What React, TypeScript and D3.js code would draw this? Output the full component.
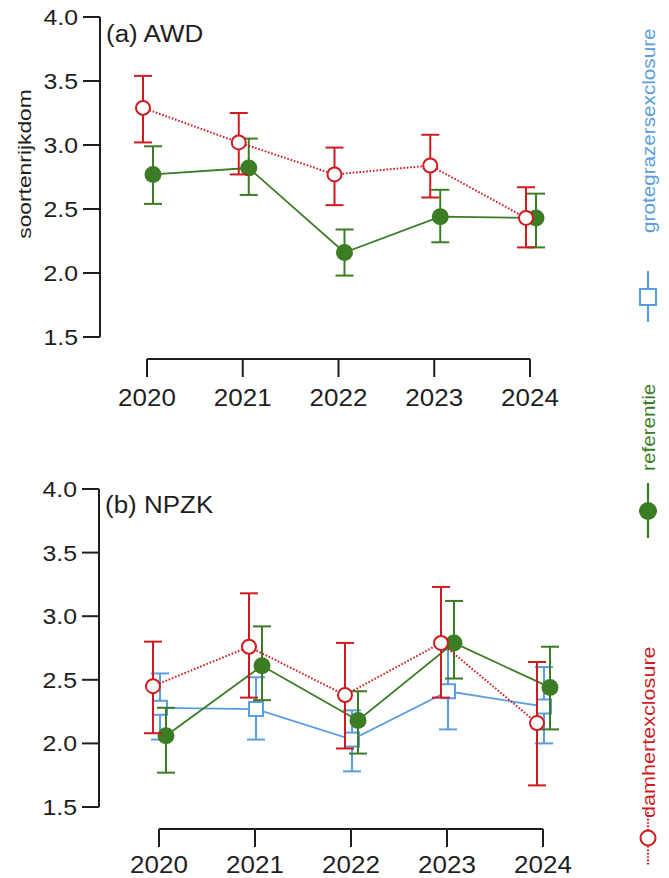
import React from 'react'
import * as d3 from 'd3'

const years = ['2020', '2021', '2022', '2023', '2024']
const yTicks = [1.5, 2.0, 2.5, 3.0, 3.5, 4.0]

// (a) AWD
const awdDamhertMean = [3.29, 3.02, 2.77, 2.84, 2.43]
const awdDamhertLo = [3.02, 2.77, 2.53, 2.59, 2.2]
const awdDamhertHi = [3.54, 3.25, 2.98, 3.08, 2.67]
const awdRefMean = [2.77, 2.82, 2.16, 2.44, 2.43]
const awdRefLo = [2.54, 2.61, 1.98, 2.24, 2.2]
const awdRefHi = [2.99, 3.05, 2.34, 2.65, 2.62]

// (b) NPZK
const npzkDamhertMean = [2.45, 2.76, 2.38, 2.79, 2.16]
const npzkDamhertLo = [2.08, 2.36, 1.96, 2.36, 1.67]
const npzkDamhertHi = [2.8, 3.18, 2.79, 3.23, 2.64]
const npzkRefMean = [2.06, 2.61, 2.18, 2.79, 2.44]
const npzkRefLo = [1.77, 2.34, 1.92, 2.51, 2.11]
const npzkRefHi = [2.28, 2.92, 2.41, 3.12, 2.76]
const npzkGroteMean = [2.28, 2.27, 2.03, 2.41, 2.29]
const npzkGroteLo = [2.03, 2.03, 1.78, 2.11, 2.0]
const npzkGroteHi = [2.55, 2.52, 2.26, 2.74, 2.6]

const RED = '#cf1b1f'
const GREEN = '#3b7c24'
const BLUE = '#5a9de0'
const INK = '#1e1e1e'
const FONT = '"Liberation Sans", Arial, Helvetica, sans-serif'
const SX = 1.13

type Kind = 'damhert' | 'ref' | 'grote'
type Series = { kind: Kind; mean: number[]; lo: number[]; hi: number[]; dx: number }

function Txt({ x, y, size, anchor = 'start', rot = 0, sx = SX, fill = INK, dy = 0, children }: any) {
  return (
    <text
      transform={`translate(${x},${y}) rotate(${rot}) scale(${sx},1)`}
      fontSize={size}
      fontFamily={FONT}
      textAnchor={anchor}
      fill={fill}
      dy={dy}
    >
      {children}
    </text>
  )
}

function Marker({ kind, x, y, big = false }: { kind: Kind; x: number; y: number; big?: boolean }) {
  if (kind === 'ref') return <circle cx={x} cy={y} r={big ? 9 : 8.5} fill={GREEN} />
  if (kind === 'damhert')
    return <circle cx={x} cy={y} r={big ? 7.5 : 7} fill="#fff" stroke={RED} strokeWidth={2} />
  const h = big ? 8 : 7
  return <rect x={x - h} y={y - h} width={h * 2} height={h * 2} fill="#fff" stroke={BLUE} strokeWidth={2} />
}

const colorOf = (k: Kind) => (k === 'ref' ? GREEN : k === 'damhert' ? RED : BLUE)

function Panel({
  top,
  bottom,
  axisX,
  xLeft,
  xRight,
  axisY,
  labelGap,
  title,
  titleY,
  series,
}: {
  top: number
  bottom: number
  axisX: number
  xLeft: number
  xRight: number
  axisY: number
  labelGap: number
  title: string
  titleY: number
  series: Series[]
}) {
  const y = d3.scaleLinear().domain([1.5, 4]).range([bottom, top])
  const x = d3.scalePoint<string>().domain(years).range([xLeft, xRight])
  return (
    <g>
      {/* y axis */}
      <line x1={axisX} x2={axisX} y1={y(1.5)} y2={y(4)} stroke={INK} strokeWidth={2} />
      {yTicks.map((t) => (
        <g key={t}>
          <line x1={axisX - 17} x2={axisX} y1={y(t)} y2={y(t)} stroke={INK} strokeWidth={2} />
          <Txt x={axisX - 22} y={y(t)} size={22} anchor="end" dy="0.36em">
            {d3.format('.1f')(t)}
          </Txt>
        </g>
      ))}
      {/* x axis */}
      <line x1={x(years[0])} x2={x(years[years.length - 1])} y1={axisY} y2={axisY} stroke={INK} strokeWidth={2} />
      {years.map((yr) => (
        <g key={yr}>
          <line x1={x(yr)} x2={x(yr)} y1={axisY} y2={axisY + 18} stroke={INK} strokeWidth={2} />
          <Txt x={x(yr)} y={axisY + labelGap} size={23} anchor="middle">
            {yr}
          </Txt>
        </g>
      ))}
      <Txt x={axisX + 6} y={titleY} size={23}>
        {title}
      </Txt>
      {series.map((s) => {
        const c = colorOf(s.kind)
        const px = (i: number) => (x(years[i]) as number) + s.dx
        const line = d3
          .line<number>()
          .x((_, i) => px(i))
          .y((v) => y(v))
        return (
          <g key={s.kind}>
            <path
              d={line(s.mean) || ''}
              fill="none"
              stroke={c}
              strokeWidth={s.kind === 'damhert' ? 2 : 1.8}
              strokeDasharray={s.kind === 'damhert' ? '1.6 1.8' : undefined}
            />
            {s.mean.map((_, i) => (
              <g key={i} stroke={c} strokeWidth={2}>
                <line x1={px(i)} x2={px(i)} y1={y(s.lo[i])} y2={y(s.hi[i])} />
                <line x1={px(i) - 9} x2={px(i) + 9} y1={y(s.lo[i])} y2={y(s.lo[i])} />
                <line x1={px(i) - 9} x2={px(i) + 9} y1={y(s.hi[i])} y2={y(s.hi[i])} />
              </g>
            ))}
            {s.mean.map((v, i) => (
              <Marker key={i} kind={s.kind} x={px(i)} y={y(v)} />
            ))}
          </g>
        )
      })}
    </g>
  )
}

function Legend() {
  const lx = 648
  return (
    <g>
      {/* grotegrazersexclosure */}
      <line x1={lx} x2={lx} y1={271} y2={322} stroke={BLUE} strokeWidth={2.2} />
      <Marker kind="grote" x={lx} y={297} big />
      <Txt x={655} y={233} size={18} rot={-90} sx={1.15} fill={BLUE}>
        grotegrazersexclosure
      </Txt>
      {/* referentie */}
      <line x1={lx} x2={lx} y1={483} y2={538} stroke={GREEN} strokeWidth={2.2} />
      <Marker kind="ref" x={lx} y={511} big />
      <Txt x={655} y={471} size={18} rot={-90} sx={1.15} fill={GREEN}>
        referentie
      </Txt>
      {/* damhertexclosure */}
      <line x1={lx} x2={lx} y1={812} y2={866} stroke={RED} strokeWidth={2.2} strokeDasharray="1.6 1.8" />
      <Marker kind="damhert" x={lx} y={838} big />
      <Txt x={655} y={818} size={18} rot={-90} sx={1.2} fill={RED}>
        damhertexclosure
      </Txt>
    </g>
  )
}

export default function App() {
  const seriesA: Series[] = [
    { kind: 'ref', mean: awdRefMean, lo: awdRefLo, hi: awdRefHi, dx: 6 },
    { kind: 'damhert', mean: awdDamhertMean, lo: awdDamhertLo, hi: awdDamhertHi, dx: -4 },
  ]
  const seriesB: Series[] = [
    { kind: 'grote', mean: npzkGroteMean, lo: npzkGroteLo, hi: npzkGroteHi, dx: 1 },
    { kind: 'ref', mean: npzkRefMean, lo: npzkRefLo, hi: npzkRefHi, dx: 7 },
    { kind: 'damhert', mean: npzkDamhertMean, lo: npzkDamhertLo, hi: npzkDamhertHi, dx: -6 },
  ]
  return (
    <svg
      width={669}
      height={878}
      viewBox="0 0 669 878"
      style={{ position: 'absolute', left: 0, top: 0, background: '#fff', display: 'block' }}
    >
      <rect width={669} height={878} fill="#fff" />
      <Panel
        top={17}
        bottom={337}
        axisX={100}
        xLeft={147}
        xRight={530}
        axisY={359}
        labelGap={47}
        title="(a) AWD"
        titleY={42}
        series={seriesA}
      />
      <Panel
        top={489}
        bottom={807}
        axisX={99}
        xLeft={159}
        xRight={543}
        axisY={829}
        labelGap={44}
        title="(b) NPZK"
        titleY={513}
        series={seriesB}
      />
      <Txt x={31} y={164} size={19} rot={-90} sx={1.2} anchor="middle">
        soortenrijkdom
      </Txt>
      <Legend />
    </svg>
  )
}
